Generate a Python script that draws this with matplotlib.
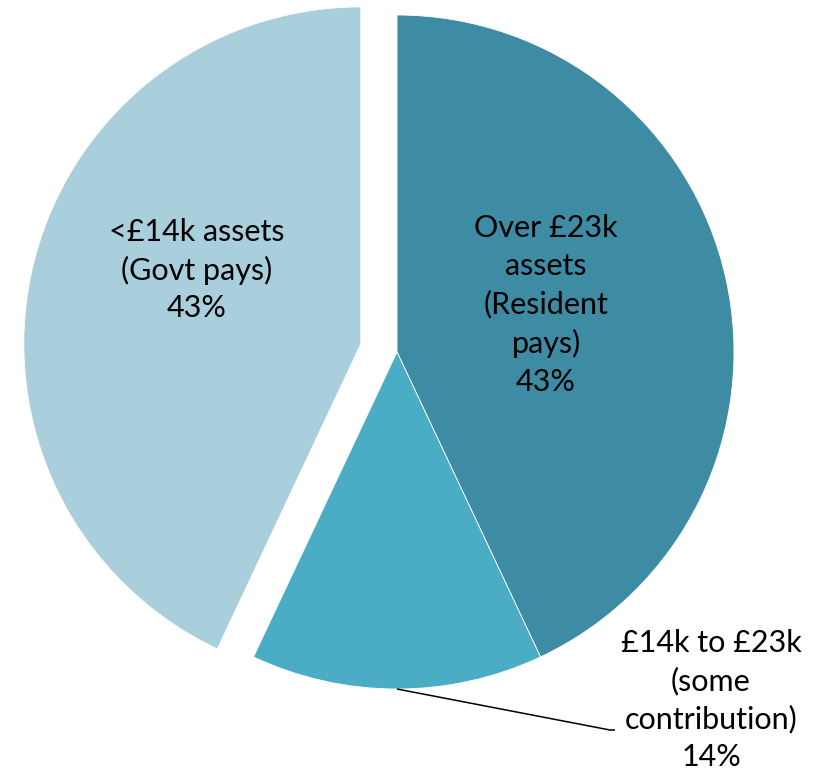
import numpy as np
import matplotlib
matplotlib.use("Agg")
import matplotlib.pyplot as plt

# Share of care home residents by assets band
labels = ["Over £23k\nassets\n(Resident\npays)\n43%",
          "£14k to £23k\n(some\ncontribution)\n14%",
          "<£14k assets\n(Govt pays)\n43%"]
shares = [43, 14, 43]
colors = ["#3D8CA3", "#4BACC6", "#A9CEDC"]
explode = [0, 0, 0.11]   # fraction of the radius

W, H = 816, 774
fig = plt.figure(figsize=(W / 100, H / 100), dpi=100)
ax = fig.add_axes([0, 0, 1, 1])

cx, cy, r = 397, H - 352, 337
wedges, _ = ax.pie(shares, colors=colors, explode=[e * r for e in explode],
                   startangle=90, counterclock=False, center=(cx, cy),
                   radius=r, frame=True,
                   wedgeprops=dict(edgecolor="white", linewidth=0.6))
ax.set_xlim(0, W)
ax.set_ylim(0, H)
ax.set_aspect("equal")
ax.axis("off")

plt.rcParams["font.family"] = ["Lato", "DejaVu Sans"]
fs = 22
ls = 1.42
ax.text(546, H - 305, labels[0], ha="center", va="center", fontsize=fs,
        linespacing=ls)
ax.text(197, H - 270, labels[2], ha="center", va="center", fontsize=fs,
        linespacing=ls)

# Leader line for the small slice, anchored at the arc midpoint
w = wedges[1]
mid = np.deg2rad((w.theta1 + w.theta2) / 2)
ax_, ay_ = w.center[0] + w.r * np.cos(mid), w.center[1] + w.r * np.sin(mid)
ax.plot([ax_, 610, 615], [ay_, H - 730, H - 730], color="black", lw=1.1,
        solid_capstyle="butt")
ax.text(711, H - 700, labels[1], ha="center", va="center", fontsize=fs,
        linespacing=ls)

fig.savefig("out.png", dpi=100, facecolor="white")
